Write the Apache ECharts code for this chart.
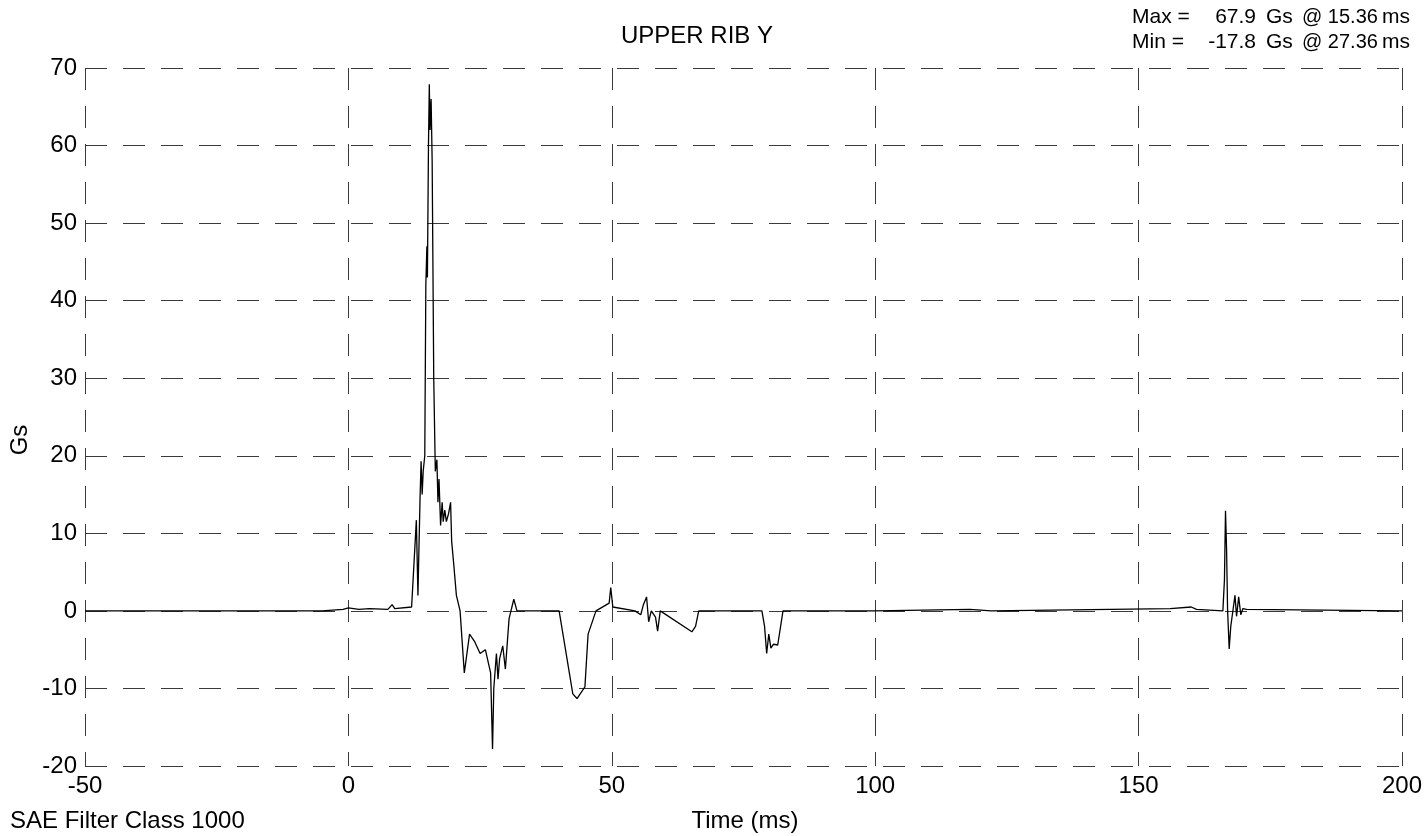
<!DOCTYPE html>
<html>
<head>
<meta charset="utf-8">
<script src="https://cdn.jsdelivr.net/npm/echarts@6/dist/echarts.min.js"></script>
<style>
html,body{margin:0;padding:0;background:#fff;}
#c{width:1425px;height:836px;}
</style>
</head>
<body>
<div id="c"></div>
<script>
// Time (ms) of each sample
var timeMs = [-50,-5,-1,0,2,4,7.5,8.3,8.8,12,12.9,13.2,13.6,13.8,14,14.2,14.5,14.7,14.9,15.0,15.2,15.36,15.5,15.7,15.9,16.2,16.5,16.8,17,17.2,17.5,17.8,18,18.3,18.6,19,19.4,19.6,20,20.5,21.2,21.6,22,22.3,22.6,23,24,25,26,27,27.36,27.6,28.1,28.4,28.7,29.3,29.8,30.5,31.4,32,40,42.6,43.4,44.9,45.5,47,49.5,49.8,50.2,54.4,55.5,56,56.6,57,57.5,58.3,58.7,59.2,65.2,65.9,66.5,78.5,79,79.4,79.8,80.2,80.7,81.5,82.5,100,118,122,156,160,161,166,166.3,166.5,166.7,166.9,167.2,167.5,168,168.3,168.6,169,169.4,169.8,170.5,200];
// Acceleration (Gs) of each sample
var accelGs = [0,0,0.2,0.4,0.2,0.3,0.2,0.8,0.3,0.5,11.7,2,14.5,19.3,15,18,20,42,47,43,60,67.9,62,66,58,30,18,19.5,14,17,11,14,11.5,13,11.5,12.5,14,9,6,2,0,-4,-8,-6.5,-5,-3,-4,-5.5,-5,-8,-17.8,-10,-5.5,-8.8,-6.2,-4.5,-7.5,-1,1.5,0,0,-10.7,-11.3,-9.8,-3,0,1,3,0.5,0,-0.5,0.8,1.8,-1.4,0,-0.8,-2.6,0,-2.7,-2,0,0,-2,-5.5,-3,-4.8,-4.3,-4.4,0,0,0.2,0,0.3,0.5,0.2,0,4,12.9,8,0,-4.9,-2,0.5,2,-0.7,1.8,-0.5,0.3,0.2,0];
var xTicks = [-50,0,50,100,150,200];
var yTicks = [-20,-10,0,10,20,30,40,50,60,70];
var titleText = 'UPPER RIB Y';
var maxLine = ['Max =', '67.9', 'Gs', '@ 15.36', 'ms'];
var minLine = ['Min =', '-17.8', 'Gs', '@ 27.36', 'ms'];
var filterText = 'SAE Filter Class 1000';
var xName = 'Time (ms)';
var yName = 'Gs';

var FONT = '"Liberation Sans", Arial, sans-serif';
var data = timeMs.map(function(t,i){return [t, accelGs[i]];});
var chart = echarts.init(document.getElementById('c'), null, {renderer:'canvas'});
var gridLine = {show:true, lineStyle:{color:'#3a3a3a', width:1, type:[22,16]}};
function txt(x,y,s,align,size){
  return {type:'text', x:x, y:y, style:{text:s, fill:'#000', font:(size||22)+'px '+FONT, textAlign:align||'left', textVerticalAlign:'middle'}};
}
var graphics = [
  txt(697,36,titleText,'center',24),
  txt(1132,17,maxLine[0],'left',21), txt(1256,17,maxLine[1],'right',21), txt(1266,17,maxLine[2],'left',21), txt(1302,17,maxLine[3],'left',20), txt(1382,17,maxLine[4],'left',21),
  txt(1132,42,minLine[0],'left',21), txt(1256,42,minLine[1],'right',21), txt(1266,42,minLine[2],'left',21), txt(1302,42,minLine[3],'left',20), txt(1382,42,minLine[4],'left',21),
  txt(10,821,filterText,'left',24),
  txt(745,821,xName,'center',24),
  {type:'text', x:20, y:440, rotation:Math.PI/2, style:{text:yName, fill:'#000', font:'24px '+FONT, textAlign:'center', textVerticalAlign:'middle'}}
];
chart.setOption({
  animation:false,
  backgroundColor:'#fff',
  grid:{left:85, right:20, top:68, bottom:70},
  xAxis:{type:'value', min:-50, max:200, interval:50,
    axisLine:{show:false}, axisTick:{show:false},
    axisLabel:{color:'#000', fontSize:24, fontFamily:FONT, margin:8, formatter:function(v){return xTicks.indexOf(v)>=0?String(v):'';}},
    splitLine:gridLine},
  yAxis:{type:'value', min:-20, max:70, interval:10,
    axisLine:{show:false}, axisTick:{show:false},
    axisLabel:{color:'#000', fontSize:24, fontFamily:FONT, margin:8, formatter:function(v){return yTicks.indexOf(v)>=0?String(v):'';}},
    splitLine:gridLine},
  series:[{type:'line', data:data, showSymbol:false, symbol:'none', lineStyle:{color:'#000', width:1.3}, z:5}],
  graphic:graphics
});
</script>
</body>
</html>
